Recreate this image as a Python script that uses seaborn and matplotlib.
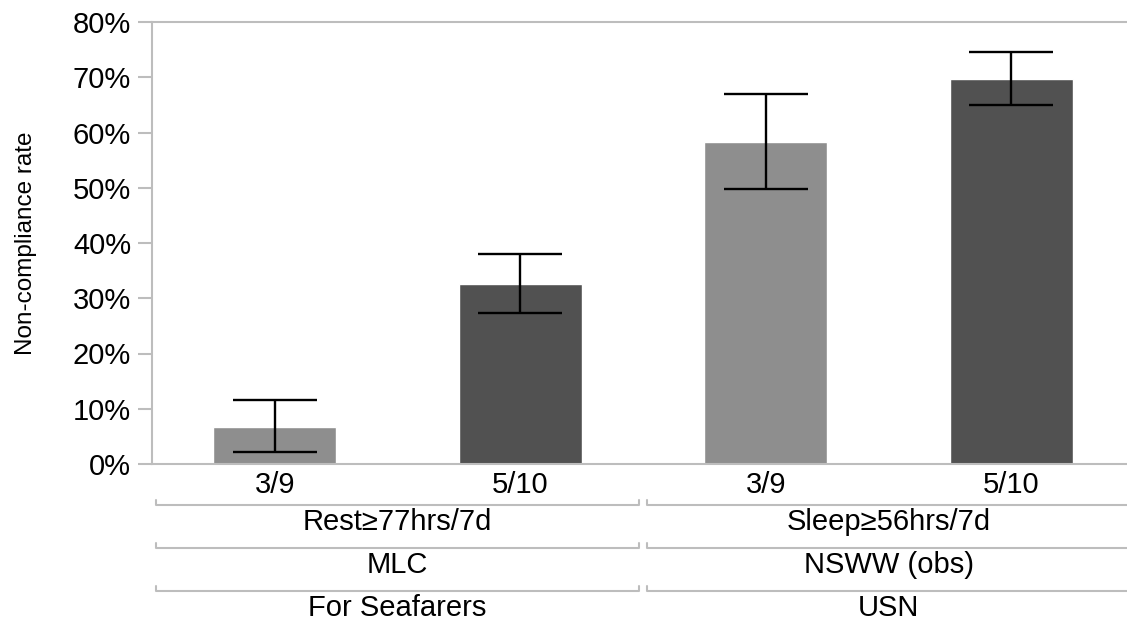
import matplotlib
matplotlib.use("Agg")
from matplotlib import pyplot as plt
from matplotlib import transforms
import pandas as pd
import seaborn as sns

# values (fraction)
periods = ["3/9", "5/10", "3/9", "5/10"]
rules = ["Rest≥77hrs/7d", "Sleep≥56hrs/7d"]
sources = ["MLC", "NSWW (obs)"]
groups = ["For Seafarers", "USN"]
rate = [0.067, 0.326, 0.583, 0.697]
ci_low = [0.022, 0.273, 0.497, 0.650]
ci_high = [0.115, 0.380, 0.670, 0.745]

df = pd.DataFrame({
    "bar": [f"{r}|{p}" for r, p in zip([rules[0]] * 2 + [rules[1]] * 2, periods)],
    "period": periods,
    "rate": rate,
})

sns.set_style("white")
plt.rcParams["font.family"] = ["Liberation Sans", "DejaVu Sans"]
plt.rcParams["text.color"] = "black"
plt.rcParams["axes.labelcolor"] = "black"
plt.rcParams["xtick.labelcolor"] = "black"
plt.rcParams["ytick.labelcolor"] = "black"

grey = "#bdbdbd"
fs = 21
fig = plt.figure(figsize=(11.27, 6.24), dpi=100)
# axis runs off the right edge like the original
ax = fig.add_axes([152 / 1127, 160 / 624, 982 / 1127, 442 / 624])

sns.barplot(data=df, x="bar", y="rate", hue="period", palette={"3/9": "#8e8e8e", "5/10": "#515151"},
            dodge=False, width=0.5, legend=False, ax=ax, saturation=1)

yerr = [[r - l for r, l in zip(rate, ci_low)], [h - r for r, h in zip(rate, ci_high)]]
ax.errorbar(range(len(rate)), rate, yerr=yerr, fmt="none", ecolor="black",
            elinewidth=1.7, capsize=30, capthick=1.7)

ax.set_xlim(-0.5, 3.5)
ax.set_ylim(0, 0.8)
ax.set_yticks([i / 10 for i in range(9)])
ax.set_yticklabels([f"{i * 10}%" for i in range(9)])
ax.set_xticks(range(4))
ax.set_xticklabels(periods)
ax.set_xlabel("")
ax.set_ylabel("Non-compliance rate", fontsize=17.5, labelpad=26)

for s in ["left", "bottom", "top"]:
    ax.spines[s].set_color(grey)
    ax.spines[s].set_linewidth(1.5)
ax.spines["right"].set_visible(False)
ax.tick_params(axis="y", length=10, width=1.5, color=grey, labelsize=fs, pad=5, left=True)
ax.tick_params(axis="x", length=0, labelsize=fs, pad=5)

# hierarchical category labels below the axis
trans = transforms.blended_transform_factory(ax.transData, fig.transFigure)
gap = 4 / 245.5
rows = [(505, 522, rules), (548, 565, sources), (591, 608, groups)]
for line_y, text_y, labels in rows:
    ly = 1 - line_y / 624
    ty = 1 - text_y / 624
    for i, lab in enumerate(labels):
        x0 = -0.5 + 2 * i + gap
        x1 = 1.5 + 2 * i - gap
        ax.plot([x0, x0, x1, x1], [ly + 5 / 624, ly, ly, ly + 5 / 624], color=grey, lw=1.5,
                transform=trans, clip_on=False)
        ax.text(2 * i + 0.5, ty, lab, transform=trans, ha="center", va="center", fontsize=fs)

fig.savefig("out.png", dpi=100)
